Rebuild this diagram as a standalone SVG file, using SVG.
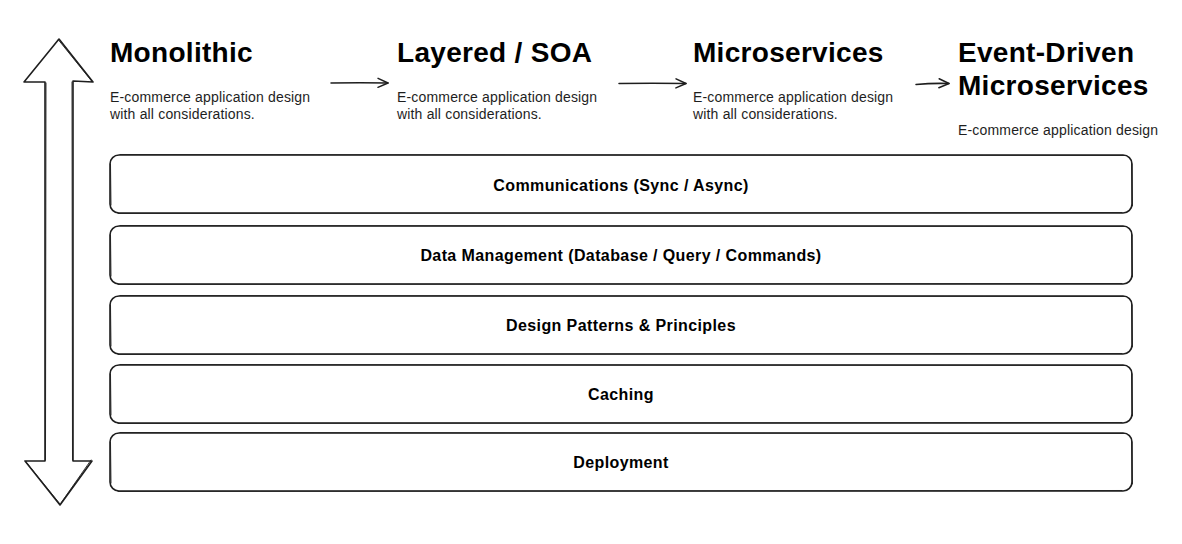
<svg xmlns="http://www.w3.org/2000/svg" width="1182" height="544" viewBox="0 0 1182 544">
<style>
.title{font-family:"Liberation Sans",Arial,sans-serif;font-weight:bold;font-size:28px;letter-spacing:0.3px;fill:#000}
.sub{font-family:"Liberation Sans",Arial,sans-serif;font-size:14px;letter-spacing:0.17px;fill:#1e1e1e}
.lbl{font-family:"Liberation Sans",Arial,sans-serif;font-weight:bold;font-size:16px;letter-spacing:0.4px;fill:#000;text-anchor:middle}
.box{fill:#fff;stroke:#1e1e1e;stroke-width:1.6}
.sk{fill:none;stroke:#1e1e1e;stroke-width:0.9;stroke-linecap:round}
.conn{fill:none;stroke:#1e1e1e;stroke-width:1.5;stroke-linecap:round}
</style>
<defs>
<marker id="ah" viewBox="0 0 12 12" refX="11" refY="6" markerWidth="12" markerHeight="12" markerUnits="userSpaceOnUse" orient="auto">
<path d="M1,1.5 L11,6 L1,10.5" fill="none" stroke="#1e1e1e" stroke-width="1.5" stroke-linecap="round" stroke-linejoin="round"/>
</marker>
</defs>
<rect width="1182" height="544" fill="#fff"/>

<g id="double-arrow">
<path d="M59,39 L93,82 L73,81 L73,461 L92,461 L60,505 L25,461 L45,461 L45,82 L24,82 Z" fill="#fff" stroke="#1e1e1e" stroke-width="1.6" stroke-linejoin="round"/>
<path d="M58.5,40 L92,81.5 M46,83 L45.5,460 M72,82 L72.5,460 M26,462 L60,504 M91,460 L61,503" class="sk"/>
</g>

<g id="monolithic">
<text class="title" x="110" y="62">Monolithic</text>
<text class="sub" x="110" y="102">E-commerce application design</text>
<text class="sub" x="110" y="119">with all considerations.</text>
</g>
<g id="layered-soa">
<text class="title" x="397" y="62">Layered / SOA</text>
<text class="sub" x="397" y="102">E-commerce application design</text>
<text class="sub" x="397" y="119">with all considerations.</text>
</g>
<g id="microservices">
<text class="title" x="693" y="62">Microservices</text>
<text class="sub" x="693" y="102">E-commerce application design</text>
<text class="sub" x="693" y="119">with all considerations.</text>
</g>
<g id="event-driven">
<text class="title" x="958" y="62">Event-Driven</text>
<text class="title" x="958" y="95">Microservices</text>
<text class="sub" x="958" y="135">E-commerce application design</text>
</g>

<g id="connectors">
<path class="conn" d="M331,83 Q360,82.5 388,83" marker-end="url(#ah)"/>
<path class="conn" d="M619,83.5 Q652,83 686,83.5" marker-end="url(#ah)"/>
<path class="conn" d="M916,84.5 Q932,83 949,83.5" marker-end="url(#ah)"/>
</g>

<g id="communications">
<rect class="box" x="110" y="155" width="1022" height="58" rx="9"/>
<path class="sk" d="M120,154.5 L1124,155.5 M110.5,164 L111,205 M1131.5,163 L1132.5,206 M118,213.5 L1122,212.5"/>
<text class="lbl" x="621" y="191">Communications (Sync / Async)</text>
</g>
<g id="data-management">
<rect class="box" x="110" y="226" width="1022" height="58" rx="9"/>
<path class="sk" d="M120,225.5 L1124,226.5 M110.5,235 L111,276 M1131.5,234 L1132.5,277 M118,284.5 L1122,283.5"/>
<text class="lbl" x="621" y="261">Data Management (Database / Query / Commands)</text>
</g>
<g id="design-patterns">
<rect class="box" x="110" y="296" width="1022" height="58" rx="9"/>
<path class="sk" d="M120,295.5 L1124,296.5 M110.5,305 L111,346 M1131.5,304 L1132.5,347 M118,354.5 L1122,353.5"/>
<text class="lbl" x="621" y="331">Design Patterns &amp; Principles</text>
</g>
<g id="caching">
<rect class="box" x="110" y="365" width="1022" height="58" rx="9"/>
<path class="sk" d="M120,364.5 L1124,365.5 M110.5,374 L111,415 M1131.5,373 L1132.5,416 M118,423.5 L1122,422.5"/>
<text class="lbl" x="621" y="400">Caching</text>
</g>
<g id="deployment">
<rect class="box" x="110" y="433" width="1022" height="58" rx="9"/>
<path class="sk" d="M120,432.5 L1124,433.5 M110.5,442 L111,483 M1131.5,441 L1132.5,484 M118,491.5 L1122,490.5"/>
<text class="lbl" x="621" y="468">Deployment</text>
</g>
</svg>
